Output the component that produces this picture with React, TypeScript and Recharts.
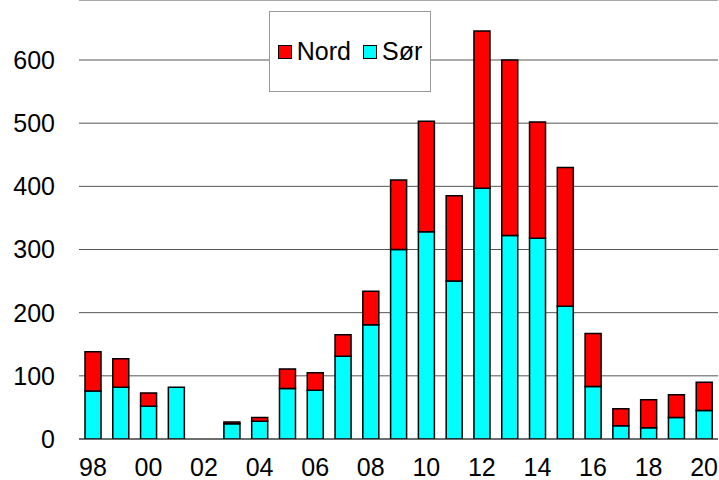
import { BarChart, Bar, XAxis, YAxis, CartesianGrid } from "recharts";

const years = [
  "98", "99", "00", "01", "02", "03", "04", "05", "06", "07", "08", "09",
  "10", "11", "12", "13", "14", "15", "16", "17", "18", "19", "20",
];
const sor = [76, 82, 52, 82, 0, 24, 28, 80, 77, 131, 181, 300, 328, 250, 397, 322, 318, 210, 83, 21, 18, 34, 45];
const total = [138, 127, 73, 82, 0, 27, 34, 111, 105, 165, 234, 410, 503, 385, 646, 600, 502, 430, 167, 48, 62, 70, 90];
const yTicks = [0, 100, 200, 300, 400, 500, 600];
const xTicks = ["98", "00", "02", "04", "06", "08", "10", "12", "14", "16", "18", "20"];

const data = years.map((y, i) => ({ year: y, sor: sor[i], nord: total[i] - sor[i] }));

const font = "'Liberation Sans', Arial, sans-serif";

function LegendBox() {
  const item = (color: string, label: string) => (
    <div style={{ display: "flex", alignItems: "center", gap: 5 }}>
      <span
        style={{
          width: 12,
          height: 12,
          background: color,
          border: "1px solid #000",
          display: "inline-block",
        }}
      />
      <span style={{ fontSize: 25, color: "#000" }}>{label}</span>
    </div>
  );
  return (
    <div
      style={{
        position: "absolute",
        left: 269,
        top: 11,
        width: 160,
        height: 79,
        border: "1px solid #999",
        background: "#fff",
        display: "flex",
        alignItems: "center",
        justifyContent: "center",
        gap: 12,
        fontFamily: font,
      }}
    >
      {item("#ff0000", "Nord")}
      {item("#00ffff", "Sør")}
    </div>
  );
}

export default function App() {
  return (
    <div style={{ position: "absolute", left: 0, top: 0, width: 719, height: 480, background: "#fff" }}>
      <BarChart
        width={719}
        height={480}
        data={data}
        margin={{ top: 0, right: 1, bottom: 0, left: 0 }}
      >
        <CartesianGrid vertical={false} stroke="#555" strokeWidth={1} />
        <XAxis
          dataKey="year"
          ticks={xTicks}
          interval={0}
          height={41}
          tickLine={false}
          tickSize={0}
          tickMargin={19}
          axisLine={{ stroke: "#333", strokeWidth: 1 }}
          tick={{ fontSize: 25, fill: "#000", fontFamily: font }}
        />
        <YAxis
          width={79}
          domain={[0, 695]}
          ticks={yTicks}
          allowDataOverflow
          axisLine={false}
          tickLine={false}
          tickSize={0}
          tickMargin={24}
          tick={{ fontSize: 25, fill: "#000", fontFamily: font }}
        />
        <Bar
          dataKey="sor"
          name="Sør"
          stackId="a"
          fill="#00ffff"
          stroke="#000"
          strokeWidth={1.5}
          barSize={16}
          isAnimationActive={false}
        />
        <Bar
          dataKey="nord"
          name="Nord"
          stackId="a"
          fill="#ff0000"
          stroke="#000"
          strokeWidth={1.5}
          barSize={16}
          isAnimationActive={false}
        />
      </BarChart>
      <LegendBox />
    </div>
  );
}
